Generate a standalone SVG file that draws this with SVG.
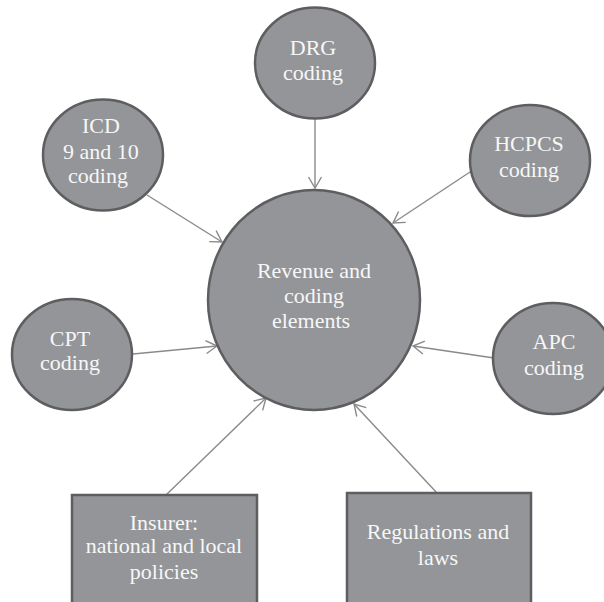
<svg xmlns="http://www.w3.org/2000/svg" width="604" height="602" viewBox="0 0 604 602">
  <defs>
    <style>
      .node { fill: #939598; stroke: #5e5e60; stroke-width: 2.5; }
      .lbl { font-family: "Liberation Serif", "DejaVu Serif", serif; font-size: 22px; fill: #f7f7f7; text-anchor: middle; }
      .conn { stroke: #8a8a8c; stroke-width: 1.4; fill: none; marker-end: url(#arrow); }
    </style>
    <marker id="arrow" markerUnits="userSpaceOnUse" markerWidth="16" markerHeight="16" viewBox="-1 -8 14 16" refX="11" refY="0" orient="auto">
      <path d="M0,-6.5 L11,0 L0,6.5" fill="none" stroke="#8a8a8c" stroke-width="1.4"/>
    </marker>
  </defs>
  <rect width="604" height="602" fill="#ffffff"/>

  <g id="connectors">
    <line class="conn" x1="315" y1="119" x2="315" y2="188"/>
    <line class="conn" x1="147" y1="195" x2="222" y2="242"/>
    <line class="conn" x1="470" y1="172" x2="393" y2="223"/>
    <line class="conn" x1="133" y1="354" x2="217" y2="346"/>
    <line class="conn" x1="494" y1="358" x2="413" y2="346"/>
    <line class="conn" x1="166" y1="495" x2="266" y2="398"/>
    <line class="conn" x1="437" y1="493" x2="354" y2="404"/>
  </g>

  <g id="center">
    <ellipse class="node" cx="314" cy="300" rx="106" ry="110"/>
    <text class="lbl" x="314" y="278">Revenue and</text>
    <text class="lbl" x="314" y="303">coding</text>
    <text class="lbl" x="311" y="328">elements</text>
  </g>

  <g id="drg">
    <ellipse class="node" cx="315" cy="63" rx="60" ry="55.5"/>
    <text class="lbl" x="313" y="55">DRG</text>
    <text class="lbl" x="313" y="80">coding</text>
  </g>

  <g id="icd">
    <ellipse class="node" cx="103" cy="155" rx="60" ry="55.5"/>
    <text class="lbl" x="101" y="133">ICD</text>
    <text class="lbl" x="101" y="159">9 and 10</text>
    <text class="lbl" x="98" y="183">coding</text>
  </g>

  <g id="hcpcs">
    <ellipse class="node" cx="530" cy="160.5" rx="60" ry="55.5"/>
    <text class="lbl" x="529" y="151">HCPCS</text>
    <text class="lbl" x="529" y="177">coding</text>
  </g>

  <g id="cpt">
    <ellipse class="node" cx="72" cy="354.5" rx="60" ry="55.5"/>
    <text class="lbl" x="70" y="346">CPT</text>
    <text class="lbl" x="70" y="370">coding</text>
  </g>

  <g id="apc">
    <ellipse class="node" cx="553" cy="358.5" rx="60" ry="55.5"/>
    <text class="lbl" x="554" y="349">APC</text>
    <text class="lbl" x="554" y="375">coding</text>
  </g>

  <g id="insurer">
    <rect class="node" x="72" y="495" width="185" height="130"/>
    <text class="lbl" x="164" y="530">Insurer:</text>
    <text class="lbl" x="164" y="553">national and local</text>
    <text class="lbl" x="164" y="579">policies</text>
  </g>

  <g id="regulations">
    <rect class="node" x="347" y="493" width="184" height="130"/>
    <text class="lbl" x="438" y="539">Regulations and</text>
    <text class="lbl" x="438" y="565">laws</text>
  </g>
</svg>
